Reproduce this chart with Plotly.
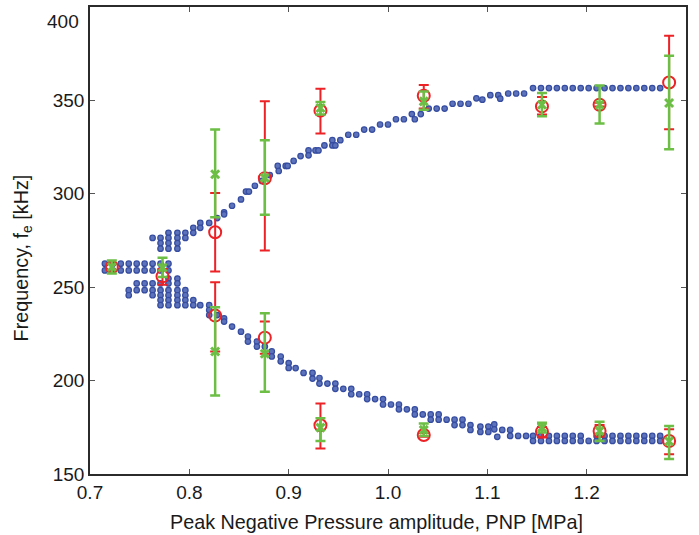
import plotly.graph_objects as go

# ---------------- simulated bifurcation points (blue dots) ----------------
# single-branch region (PNP, list of frequencies in each column)
single_pnp = [0.715, 0.723, 0.731, 0.739, 0.747, 0.755, 0.763, 0.771, 0.779]
single_freq = [[262.6, 259.0]] * 9

upper_pnp = [0.763, 0.771, 0.779, 0.788, 0.796, 0.804, 0.811, 0.820, 0.828, 0.835,
             0.843, 0.852, 0.857, 0.860, 0.866, 0.873, 0.881, 0.889, 0.890, 0.897,
             0.899, 0.905, 0.912, 0.920, 0.927, 0.930, 0.936, 0.944, 0.947, 0.952,
             0.960, 0.968, 0.976, 0.984, 0.992, 1.000, 1.008, 1.016, 1.024, 1.027,
             1.033, 1.041, 1.049, 1.057, 1.065, 1.073, 1.081, 1.089, 1.095, 1.103,
             1.111, 1.113, 1.121, 1.129, 1.137,
             1.146, 1.154, 1.162, 1.170, 1.178, 1.186, 1.194, 1.202, 1.210, 1.218,
             1.226, 1.234, 1.242, 1.250, 1.258, 1.266, 1.274]
upper_freq = [[276.4], [276.4, 273.6, 270.6], [279.1, 276.4, 273.6, 270.6],
              [279.1, 276.4, 273.6, 270.6], [279.1, 276.4], [281.8, 279.1],
              [284.4, 281.8], [284.4], [287.0], [290.1, 289.0],
              [293.6], [297.0], [301.2], [301.2], [304.3], [306.9], [310.0], [314.9], [312.2], [314.9],
              [314.9], [317.6], [320.2], [323.2, 320.6], [323.2], [323.2], [325.9], [328.7, 325.9], [325.9], [328.7],
              [331.6], [331.6], [334.4], [334.4], [337.1], [337.1], [339.9], [339.9], [342.7], [339.9],
              [342.7], [345.6], [345.6], [345.6], [348.2], [348.2], [348.2], [351.1], [350.4], [352.8],
              [352.8], [350.9], [353.7], [353.7], [353.7],
              [356.6], [356.6], [356.6], [356.6], [356.6], [356.6], [356.6], [356.6], [356.6], [356.6],
              [356.6], [356.6], [356.6], [356.6], [356.6], [356.6], [356.6]]

lower_pnp = [0.739, 0.747, 0.755, 0.763, 0.771, 0.779, 0.788, 0.796, 0.804, 0.811,
             0.820, 0.828, 0.835, 0.843, 0.852, 0.859, 0.868, 0.876, 0.883, 0.892,
             0.900, 0.907, 0.915, 0.924, 0.931, 0.939, 0.947, 0.955, 0.963, 0.971,
             0.979, 0.987, 0.995, 1.003, 1.011, 1.019, 1.027, 1.035, 1.043, 1.051,
             1.059, 1.067, 1.075, 1.083, 1.093, 1.101, 1.107, 1.110, 1.115, 1.123,
             1.131, 1.139,
             1.146, 1.154, 1.162, 1.170, 1.178, 1.186, 1.194, 1.202, 1.210, 1.218,
             1.226, 1.234, 1.242, 1.250, 1.258, 1.266, 1.274]
lower_freq = [[248.4, 245.7], [252.0, 248.4], [252.0, 248.4], [252.0, 248.4, 245.7],
              [252.0, 248.4, 245.7, 243.1, 240.4], [254.6, 252.0, 248.4, 245.7, 243.1, 240.4],
              [254.6, 252.0, 248.4, 245.7, 243.1, 240.4], [248.4, 245.7, 243.1, 240.4],
              [243.1, 240.4], [240.4],
              [240.4, 237.8, 235.1], [235.1], [233.3, 231.6], [228.9], [226.2], [223.6, 220.9],
              [220.9, 218.2], [218.2], [215.6, 212.9], [212.9, 210.3],
              [209.4, 206.8], [206.7], [204.1], [204.1, 201.1], [201.4, 198.4], [198.4],
              [198.4, 195.6], [195.6], [195.6, 192.7], [192.7],
              [192.7, 190.1], [190.1], [190.1, 187.2], [187.2], [187.2, 184.6], [184.6],
              [184.6, 181.9], [181.9], [181.9, 179.1], [181.9, 179.1],
              [179.1], [179.1, 176.2], [179.1, 176.2], [176.2, 173.6], [175.4, 172.5],
              [175.4, 172.5], [176.6, 173.9], [169.9], [173.6], [173.6, 170.4],
              [170.4], [170.4],
              [170.4, 167.7], [170.4, 167.7], [170.4, 167.7], [170.4, 167.7], [170.4, 167.7],
              [170.4, 167.7], [170.4, 167.7], [167.7], [170.4, 167.7], [170.4, 167.7],
              [170.4, 167.7], [170.4, 167.7], [170.4, 167.7], [170.4, 167.7], [170.4, 167.7],
              [170.4, 167.7], [170.4, 167.7]]

# ---------------- experimental points ----------------
pnp_exp = [0.722, 0.773, 0.826, 0.876, 0.932, 1.036, 1.155, 1.213, 1.283]
pnp_exp_split = [0.826, 0.876, 0.932, 1.036, 1.155, 1.213, 1.283]

red_up = [260.8, 255.8, 279.4, 308.3, 344.5, 352.5, 346.8, 347.7, 359.6]
red_up_plus = [2.0, 4.0, 21.0, 41.2, 11.7, 5.8, 5.0, 1.0, 25.0]
red_up_minus = [2.0, 4.5, 21.0, 38.6, 12.2, 6.9, 4.4, 1.0, 25.0]

red_lo = [234.8, 223.0, 176.1, 170.9, 172.7, 173.0, 167.7]
red_lo_plus = [17.9, 8.6, 11.7, 1.0, 2.5, 3.2, 6.2]
red_lo_minus = [19.2, 8.6, 12.4, 1.0, 3.2, 3.0, 7.1]

green_up = [260.8, 260.5, 310.5, 308.5, 345.9, 349.5, 347.7, 347.7, 348.6]
green_up_plus = [3.5, 5.3, 23.9, 20.2, 3.2, 5.3, 6.2, 10.3, 25.3]
green_up_minus = [3.5, 5.0, 23.1, 19.7, 3.5, 4.5, 6.2, 10.1, 24.8]

green_lo = [215.6, 214.4, 174.8, 173.6, 174.8, 173.0, 167.5]
green_lo_plus = [23.6, 21.6, 5.0, 3.4, 2.7, 5.0, 8.2]
green_lo_minus = [23.6, 20.4, 7.1, 3.2, 2.6, 5.3, 9.5]

x_ticks = [0.7, 0.8, 0.9, 1.0, 1.1, 1.2, 1.3]
x_ticklabels = ["0.7", "0.8", "0.9", "1.0", "1.1", "1.2", "1.3"]
y_ticks = [150, 200, 250, 300, 350]
y_ticklabels = ["150", "200", "250", "300", "350"]
y_top_label = "400"

BLUE_FILL = "#5C72BA"
BLUE_LINE = "#354CA0"
RED = "#EC2227"
GREEN = "#6CBE45"
FONT = "Liberation Sans, Arial, sans-serif"
TICK_SIZE = 19
TITLE_SIZE = 19.8


def flatten(xs, cols):
    fx, fy = [], []
    for x, col in zip(xs, cols):
        for y in col:
            fx.append(x)
            fy.append(y)
    return fx, fy


fig = go.Figure()

for xs, cols in [(single_pnp, single_freq), (upper_pnp, upper_freq), (lower_pnp, lower_freq)]:
    fx, fy = flatten(xs, cols)
    fig.add_trace(go.Scatter(
        x=fx, y=fy, mode="markers",
        marker=dict(symbol="circle", size=5.5, color=BLUE_FILL,
                    line=dict(color=BLUE_LINE, width=1.2)),
        showlegend=False, hoverinfo="skip"))


def exp_trace(x, y, plus, minus, color, symbol, size, lw, thick):
    return go.Scatter(
        x=x, y=y, mode="markers",
        marker=dict(symbol=symbol, size=size, color=color,
                    line=dict(color=color, width=lw)),
        error_y=dict(type="data", symmetric=False, array=plus, arrayminus=minus,
                     color=color, thickness=thick, width=5),
        showlegend=False, hoverinfo="skip")


fig.add_trace(exp_trace(pnp_exp, red_up, red_up_plus, red_up_minus, RED, "circle-open", 12, 2, 2))
fig.add_trace(exp_trace(pnp_exp_split, red_lo, red_lo_plus, red_lo_minus, RED, "circle-open", 12, 2, 2))
fig.add_trace(exp_trace(pnp_exp, green_up, green_up_plus, green_up_minus, GREEN, "x-thin-open", 8, 3, 2.5))
fig.add_trace(exp_trace(pnp_exp_split, green_lo, green_lo_plus, green_lo_minus, GREEN, "x-thin-open", 8, 3, 2.5))

axis_common = dict(
    showgrid=False, zeroline=False, showline=True, linecolor="#2b2b2b", linewidth=1.5,
    mirror="ticks", ticks="inside", ticklen=5, tickwidth=1, tickcolor="#555555",
    tickfont=dict(family=FONT, size=TICK_SIZE, color="#1a1a1a"),
)

fig.update_xaxes(range=[0.7, 1.3], tickvals=x_ticks, ticktext=x_ticklabels, **axis_common)
fig.update_yaxes(range=[150, 400], tickvals=y_ticks, ticktext=y_ticklabels, **axis_common)

fig.update_layout(
    width=699, height=535,
    margin=dict(l=90, r=13, t=5, b=61),
    paper_bgcolor="white", plot_bgcolor="white",
    font=dict(family=FONT, size=TITLE_SIZE, color="#1a1a1a"),
    annotations=[
        dict(text="Peak Negative Pressure amplitude, PNP [MPa]", xref="paper", yref="paper",
             x=0.48, y=-0.102, xanchor="center", yanchor="middle", showarrow=False,
             font=dict(size=TITLE_SIZE)),
        dict(text="Frequency, f<sub>e</sub> [kHz]", xref="paper", yref="paper",
             x=-0.114, y=0.4617, xanchor="center", yanchor="middle", textangle=-90,
             showarrow=False, font=dict(size=TITLE_SIZE)),
        dict(text=y_top_label, xref="paper", yref="paper",
             x=-0.015, y=0.970, xanchor="right", yanchor="middle", showarrow=False,
             font=dict(size=TICK_SIZE)),
    ],
)

fig.write_html("out.html", config={"displayModeBar": False},
               post_script="document.body.style.margin='0';")
